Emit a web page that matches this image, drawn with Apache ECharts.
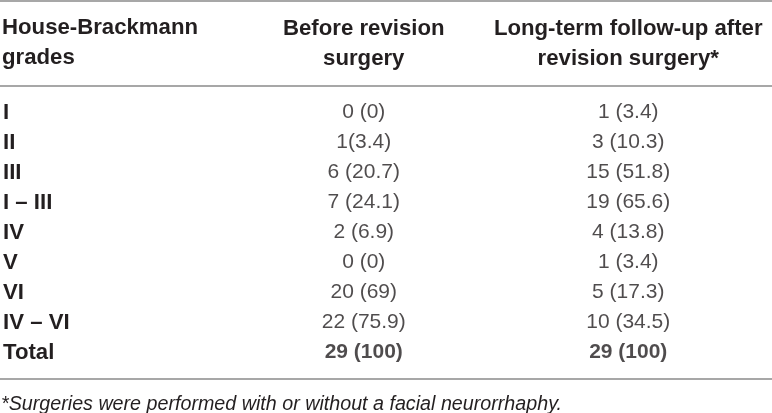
<!DOCTYPE html>
<html>
<head>
<meta charset="utf-8">
<script src="https://cdn.jsdelivr.net/npm/echarts@6/dist/echarts.min.js"></script>
<style>
html,body{margin:0;padding:0;background:#fff;}
#chart{width:772px;height:413px;}
</style>
</head>
<body>
<div id="chart"></div>
<script>
// ---- data ----
const headerGrades = 'House-Brackmann\ngrades';
const columnHeaders = ['Before revision\nsurgery', 'Long-term follow-up after\nrevision surgery*'];
const grades = ['I', 'II', 'III', 'I – III', 'IV', 'V', 'VI', 'IV – VI', 'Total'];
const beforeCells = ['0 (0)', '1(3.4)', '6 (20.7)', '7 (24.1)', '2 (6.9)', '0 (0)', '20 (69)', '22 (75.9)', '29 (100)'];
const afterCells = ['1 (3.4)', '3 (10.3)', '15 (51.8)', '19 (65.6)', '4 (13.8)', '1 (3.4)', '5 (17.3)', '10 (34.5)', '29 (100)'];
const boldRows = ['Total'];
const footnote = '*Surgeries were performed with or without a facial neurorrhaphy.';

// ---- chart ----
const FONT = '"Liberation Sans", Arial, Helvetica, sans-serif';
const TXT = '#231f20';
const LINE = '#8a8a8a';
const BOLD_SIZE = 22.2;

const chart = echarts.init(document.getElementById('chart'), null, {renderer: 'canvas'});

function cellData(cells, col) {
  return cells.map((t, i) => ({
    value: [col, i],
    label: {
      formatter: t,
      fontWeight: boldRows.indexOf(grades[i]) >= 0 ? 'bold' : 'normal'
    }
  }));
}

const cellSeries = (cells, col) => ({
  type: 'scatter',
  data: cellData(cells, col),
  symbolSize: 1,
  itemStyle: {color: 'rgba(0,0,0,0)'},
  silent: true,
  label: {
    show: true,
    position: 'inside',
    color: TXT,
    fontFamily: FONT,
    fontSize: 21
  }
});

chart.setOption({
  animation: false,
  backgroundColor: '#fff',
  grid: {left: 230.5, right: 11.5, top: 97.5, bottom: 45.5},
  xAxis: {
    type: 'category',
    position: 'top',
    data: columnHeaders,
    axisLine: {show: false},
    axisTick: {show: false},
    splitLine: {show: false},
    axisLabel: {
      interval: 0,
      margin: 24,
      color: TXT,
      fontFamily: FONT,
      fontWeight: 'bold',
      fontSize: BOLD_SIZE,
      lineHeight: 30,
      align: 'center'
    }
  },
  yAxis: {
    type: 'category',
    inverse: true,
    data: grades,
    axisLine: {show: false},
    axisTick: {show: false},
    splitLine: {show: false},
    axisLabel: {
      interval: 0,
      margin: 228.5,
      align: 'left',
      color: TXT,
      fontFamily: FONT,
      fontWeight: 'bold',
      fontSize: BOLD_SIZE
    }
  },
  series: [cellSeries(beforeCells, 0), cellSeries(afterCells, 1)],
  graphic: [
    {type: 'line', shape: {x1: 0, y1: 1, x2: 772, y2: 1}, style: {stroke: LINE, lineWidth: 1.5}, silent: true},
    {type: 'line', shape: {x1: 0, y1: 86, x2: 772, y2: 86}, style: {stroke: LINE, lineWidth: 1.5}, silent: true},
    {type: 'line', shape: {x1: 0, y1: 379, x2: 772, y2: 379}, style: {stroke: LINE, lineWidth: 1.5}, silent: true},
    {type: 'text', left: 2, top: 13, style: {text: headerGrades, fill: TXT, font: 'bold ' + BOLD_SIZE + 'px ' + FONT, lineHeight: 30}, silent: true},
    {type: 'text', left: 1, top: 395, style: {text: footnote, fill: TXT, font: 'italic 19.7px ' + FONT}, silent: true}
  ]
});
</script>
</body>
</html>
